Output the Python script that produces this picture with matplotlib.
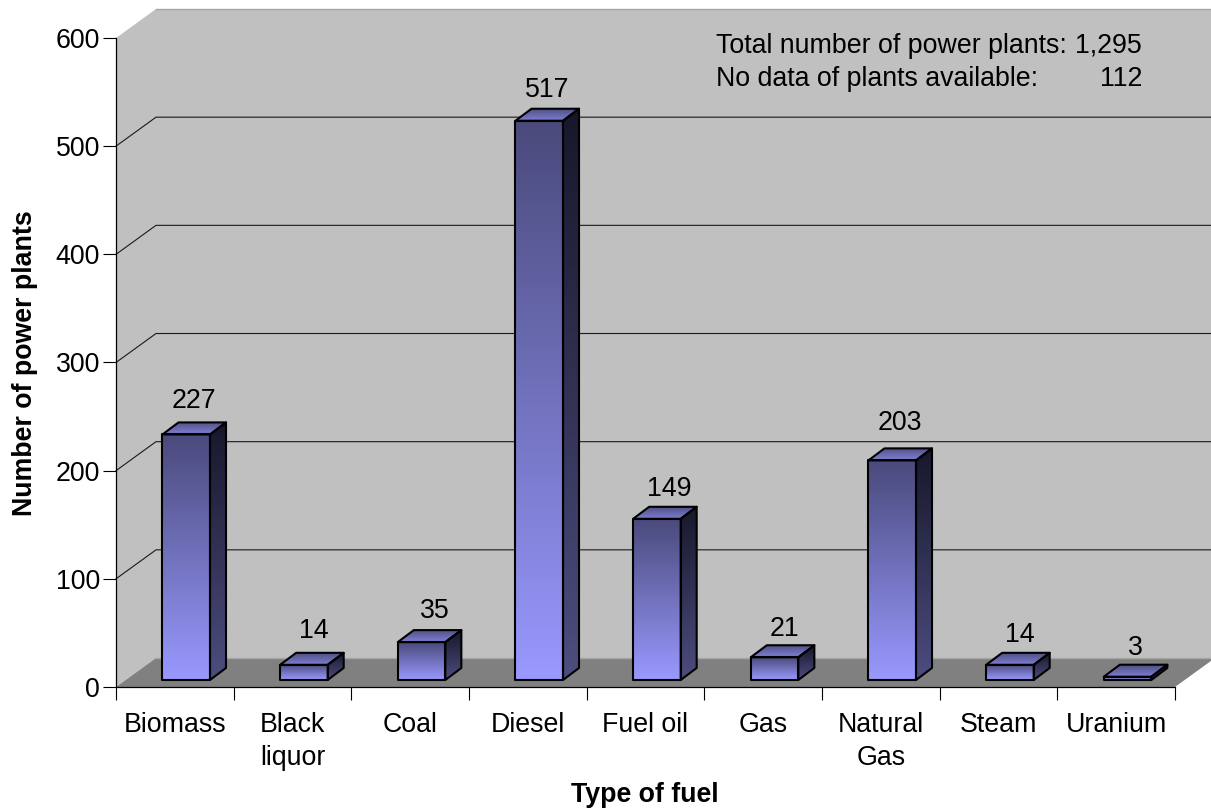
import numpy as np
from matplotlib import pyplot as plt
from matplotlib.colors import LinearSegmentedColormap
from matplotlib.patches import Polygon

plt.rcParams['font.family'] = ['Liberation Sans', 'DejaVu Sans']

# chart data
fuels = ['Biomass', 'Black\nliquor', 'Coal', 'Diesel', 'Fuel oil', 'Gas', 'Natural\nGas', 'Steam', 'Uranium']
plants = [227, 14, 35, 517, 149, 21, 203, 14, 3]
y_ticks = [0, 100, 200, 300, 400, 500, 600]

W, H = 1211, 811
FONT = 19.25

# depth of the box and of each bar, in data units
wall_dx, wall_dy = 0.34, 26.8
bar_dx, bar_dy = 0.136, 11.1
bar_w = 0.404
bar_shift, bar_lift = 0.097, 6.5

# small hand placement of the value labels, in pixels
label_dx = [0, 2, 5, 0, 4, 2, 0, 2, 0]
label_dy = [0, -1, 2, 2, 3, 5, -4, 3, 4]


def shaded(ax, pts, x0, x1, y0, y1, c_top, c_bottom):
    # polygon filled with a vertical colour ramp
    cmap = LinearSegmentedColormap.from_list('ramp', [c_top, c_bottom])
    poly = Polygon(pts, closed=True, fc='none', ec='none', zorder=3)
    ax.add_patch(poly)
    im = ax.imshow(np.linspace(0, 1, 128).reshape(-1, 1), cmap=cmap, aspect='auto',
                   extent=(x0, x1, y0, y1), origin='upper', zorder=3, interpolation='bilinear')
    im.set_clip_path(poly)
    ax.add_patch(Polygon(pts, closed=True, fc='none', ec='black', lw=1.5, zorder=4, joinstyle='round'))


def draw_bar(ax, i, v):
    x0 = i + 0.5 - bar_w / 2 + bar_shift
    x1 = x0 + bar_w
    y0 = bar_lift
    y1 = y0 + v
    xb, yb = bar_dx, bar_dy
    # side, top, then front face
    shaded(ax, [(x1, y0), (x1 + xb, y0 + yb), (x1 + xb, y1 + yb), (x1, y1)],
           x1, x1 + xb, y0, y1 + yb, '#17172b', '#4d4d80')
    shaded(ax, [(x0, y1), (x1, y1), (x1 + xb, y1 + yb), (x0 + xb, y1 + yb)],
           x0, x1 + xb, y1, y1 + yb, '#4d4d80', '#7f7fd4')
    shaded(ax, [(x0, y0), (x1, y0), (x1, y1), (x0, y1)],
           x0, x1, y0, y1, '#4a4a7c', '#9999ff')
    ax.annotate(str(v), (i + 0.5 + bar_shift + bar_dx / 2, v + 37),
                xytext=(label_dx[i] * 0.72, -label_dy[i] * 0.72), textcoords='offset points',
                ha='center', va='center', fontsize=FONT, color='black', zorder=5)


fig = plt.figure(figsize=(W / 100, H / 100), dpi=100)
ax = fig.add_axes([116 / W, 1 - 687 / H, (1175 - 116) / W, (687 - 38) / H])
ax.patch.set_visible(False)

n = len(fuels)
ymax = y_ticks[-1]

# walls and floor
ax.add_patch(Polygon([(0, 0), (wall_dx, wall_dy), (wall_dx, ymax + wall_dy), (0, ymax)],
                     fc='#c0c0c0', ec='none', clip_on=False, zorder=0))
ax.add_patch(Polygon([(wall_dx, wall_dy), (n + wall_dx, wall_dy), (n + wall_dx, ymax + wall_dy), (wall_dx, ymax + wall_dy)],
                     fc='#c0c0c0', ec='none', clip_on=False, zorder=0))
ax.add_patch(Polygon([(0, 0), (n, 0), (n + wall_dx, wall_dy), (wall_dx, wall_dy)],
                     fc='#808080', ec='none', clip_on=False, zorder=1))

# gridlines run along the side wall and the back wall
for t in y_ticks:
    if t == 0 or t == ymax:
        ax.plot([wall_dx, n + wall_dx], [t + wall_dy, t + wall_dy], color='#a6a6a6', lw=1.0, clip_on=False, zorder=2)
    else:
        ax.plot([0, wall_dx, n + wall_dx], [t, t + wall_dy, t + wall_dy], color='#1a1a1a', lw=0.8, clip_on=False, zorder=2)

for i, v in enumerate(plants):
    draw_bar(ax, i, v)

ax.set_xlim(0, n)
ax.set_ylim(0, ymax)

for s in ['top', 'right']:
    ax.spines[s].set_visible(False)
for s in ['left', 'bottom']:
    ax.spines[s].set_linewidth(0.9)
    ax.spines[s].set_zorder(6)

ax.set_yticks(y_ticks)
ax.tick_params(axis='y', length=9.5, width=0.8, labelsize=FONT, pad=2)
ax.set_xticks(np.arange(n + 1))
ax.set_xticklabels([])
ax.tick_params(axis='x', which='major', length=9.5, width=0.8)
ax.set_xticks(np.arange(n) + 0.5, minor=True)
ax.set_xticklabels(fuels, minor=True, fontsize=FONT, linespacing=1.35, va='top')
ax.tick_params(axis='x', which='minor', length=0, pad=18)

fig.text(645 / W, 1 - 795 / H, 'Type of fuel', ha='center', va='center', fontsize=FONT, fontweight='bold')
fig.text(25 / W, 1 - 363 / H, 'Number of power plants', ha='center', va='center', rotation=90,
         fontsize=FONT, fontweight='bold')

# note in the top right corner
fig.text(716 / W, 1 - 46 / H, 'Total number of power plants:', ha='left', va='center', fontsize=FONT)
fig.text(1142 / W, 1 - 46 / H, '1,295', ha='right', va='center', fontsize=FONT)
fig.text(716 / W, 1 - 78.5 / H, 'No data of plants available:', ha='left', va='center', fontsize=FONT)
fig.text(1142 / W, 1 - 78.5 / H, '112', ha='right', va='center', fontsize=FONT)

fig.savefig('out.png', dpi=100, facecolor='white')
